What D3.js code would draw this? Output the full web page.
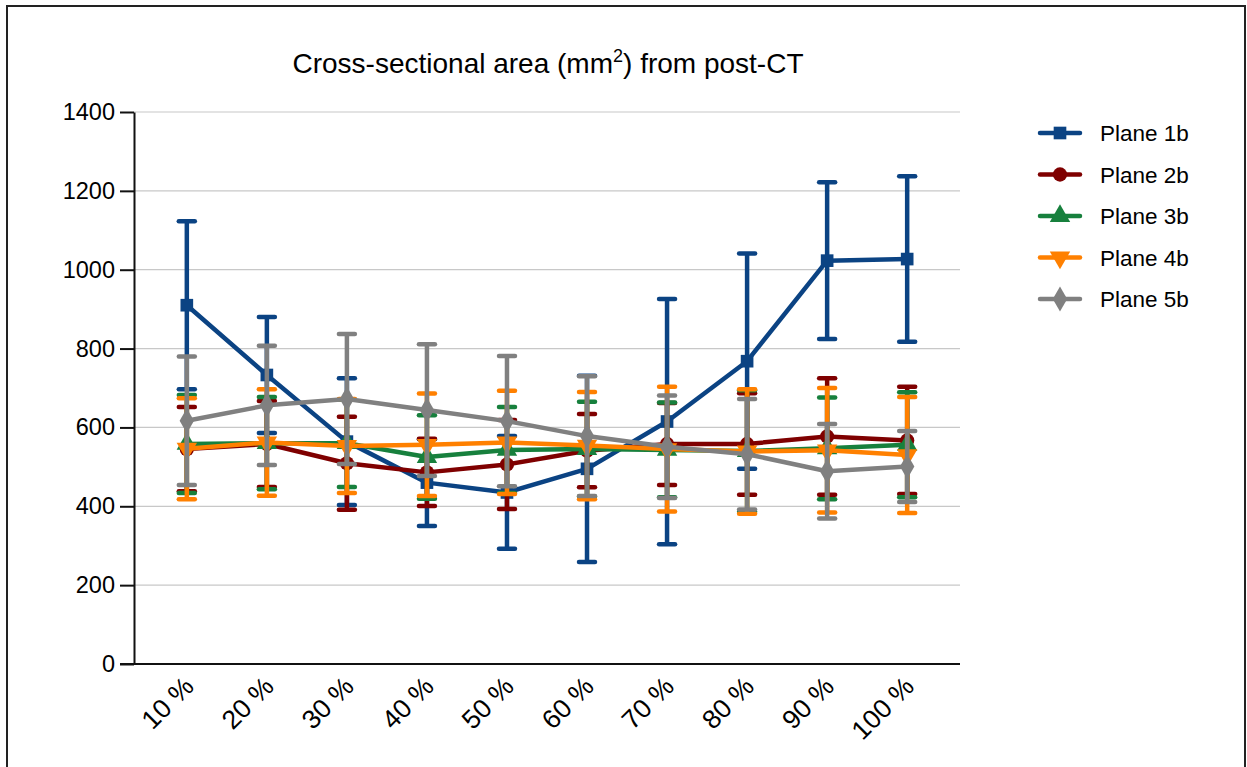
<!DOCTYPE html>
<html>
<head>
<meta charset="utf-8">
<script src="https://cdn.jsdelivr.net/npm/d3@7"></script>
<style>
  html, body { margin: 0; padding: 0; background: #fff; }
  svg { display: block; font-family: "Liberation Sans", Arial, sans-serif; }
</style>
</head>
<body>
<svg id="chart" width="1247" height="767"></svg>
<script>
// Categories along the x axis (position of the plane, %)
const categories = ["10 %", "20 %", "30 %", "40 %", "50 %", "60 %", "70 %", "80 %", "90 %", "100 %"];
const yTicks = [0, 200, 400, 600, 800, 1000, 1200, 1400];
const seriesNames = ["Plane 1b", "Plane 2b", "Plane 3b", "Plane 4b", "Plane 5b"];

// Means and error (± SD) per series, mm²
const plane1bMean = [910, 733, 564, 460, 435, 495, 615, 768, 1023, 1027];
const plane1bErr  = [213, 147, 161, 110, 143, 236, 311, 273, 199, 210];
const plane2bMean = [545, 558, 509, 486, 506, 541, 558, 558, 577, 567];
const plane2bErr  = [107, 109, 118, 85, 113, 93, 104, 129, 148, 136];
const plane3bMean = [558, 560, 560, 525, 543, 545, 543, 540, 547, 556];
const plane3bErr  = [124, 117, 111, 106, 109, 120, 120, 154, 129, 133];
const plane4bMean = [546, 562, 553, 556, 562, 554, 545, 539, 542, 530];
const plane4bErr  = [128, 135, 119, 130, 131, 136, 158, 158, 158, 147];
const plane5bMean = [617, 656, 672, 644, 616, 578, 551, 532, 489, 501];
const plane5bErr  = [163, 151, 165, 167, 165, 152, 130, 140, 120, 90];

const colors = ["#0b4383", "#7f0000", "#17803d", "#ff8000", "#808080"];
const symbols = [d3.symbolSquare, d3.symbolCircle, d3.symbolTriangle, "triDown", d3.symbolDiamond];

const series = [
  { name: seriesNames[0], mean: plane1bMean, err: plane1bErr },
  { name: seriesNames[1], mean: plane2bMean, err: plane2bErr },
  { name: seriesNames[2], mean: plane3bMean, err: plane3bErr },
  { name: seriesNames[3], mean: plane4bMean, err: plane4bErr },
  { name: seriesNames[4], mean: plane5bMean, err: plane5bErr }
];

const svg = d3.select("#chart");
const FONT = "Liberation Sans, Arial, sans-serif";

// outer frame (open at the bottom)
svg.append("path")
  .attr("d", "M7,767 V6 H1245 V767")
  .attr("fill", "none")
  .attr("stroke", "#222")
  .attr("stroke-width", 2);

const plot = { left: 134, right: 960, top: 112, bottom: 664 };

const x = d3.scalePoint().domain(categories).range([plot.left, plot.right]).padding(0.66);
const y = d3.scaleLinear().domain([0, 1400]).range([plot.bottom, plot.top]);

// horizontal gridlines
svg.append("g")
  .selectAll("line")
  .data(yTicks.filter(d => d > 0))
  .join("line")
  .attr("x1", plot.left).attr("x2", plot.right)
  .attr("y1", d => y(d)).attr("y2", d => y(d))
  .attr("stroke", "#c8c8c8")
  .attr("stroke-width", 1.2);

// y axis
const yAxis = svg.append("g")
  .attr("transform", `translate(${plot.left},0)`)
  .call(d3.axisLeft(y).tickValues(yTicks).tickFormat(d3.format("d"))
    .tickSize(14).tickPadding(5).tickSizeOuter(0));
yAxis.select(".domain").attr("stroke", "#111").attr("stroke-width", 2);
yAxis.selectAll(".tick line").attr("stroke", "#111").attr("stroke-width", 2);
yAxis.selectAll(".tick text")
  .attr("font-size", 23.5)
  .attr("font-family", FONT)
  .attr("fill", "#000");

// x axis
const xAxis = svg.append("g")
  .attr("transform", `translate(0,${plot.bottom})`)
  .call(d3.axisBottom(x).tickSize(0).tickPadding(0));
xAxis.select(".domain").attr("d", `M${plot.left - 14},0H${plot.right}`).attr("stroke", "#111").attr("stroke-width", 2);
xAxis.selectAll(".tick text")
  .attr("font-size", 26.5)
  .attr("font-family", FONT)
  .attr("fill", "#000")
  .attr("text-anchor", "end")
  .attr("dy", 0)
  .attr("transform", "translate(8,24) rotate(-45)");

// symbol factory
function symPath(kind, size) {
  if (kind === "triDown") {
    return { d: d3.symbol(d3.symbolTriangle, size)(), rot: 180 };
  }
  return { d: d3.symbol(kind, size)(), rot: 0 };
}
const symSizes = [160, 160, 180, 180, 180];

const lineGen = d3.line()
  .x((d, i) => x(categories[i]))
  .y(d => y(d));

series.forEach((s, k) => {
  const g = svg.append("g");
  const c = colors[k];
  // error bars
  const eb = g.selectAll("g.eb")
    .data(s.mean.map((m, i) => ({ cat: categories[i], m, e: s.err[i] })))
    .join("g")
    .attr("class", "eb");
  eb.append("line")
    .attr("x1", d => x(d.cat)).attr("x2", d => x(d.cat))
    .attr("y1", d => y(d.m + d.e)).attr("y2", d => y(d.m - d.e))
    .attr("stroke", c).attr("stroke-width", 4.5);
  [1, -1].forEach(sign => {
    eb.append("line")
      .attr("x1", d => x(d.cat) - 8).attr("x2", d => x(d.cat) + 8)
      .attr("y1", d => y(d.m + sign * d.e)).attr("y2", d => y(d.m + sign * d.e))
      .attr("stroke", c).attr("stroke-width", 4.5).attr("stroke-linecap", "round");
  });
  // mean line
  g.append("path")
    .attr("d", lineGen(s.mean))
    .attr("fill", "none")
    .attr("stroke", c)
    .attr("stroke-width", 4.5)
    .attr("stroke-linejoin", "round");
  // markers
  const sp = symPath(symbols[k], symSizes[k]);
  g.selectAll("path.mk")
    .data(s.mean)
    .join("path")
    .attr("class", "mk")
    .attr("d", sp.d)
    .attr("fill", c)
    .attr("transform", (d, i) => `translate(${x(categories[i])},${y(d)}) rotate(${sp.rot})`);
});

// title
const title = svg.append("text")
  .attr("x", 548).attr("y", 73)
  .attr("text-anchor", "middle")
  .attr("font-size", 28)
  .attr("font-family", FONT)
  .attr("fill", "#000");
title.append("tspan").text("Cross-sectional area (mm");
title.append("tspan").attr("font-size", 18).attr("dy", -11).text("2");
title.append("tspan").attr("dy", 11).text(") from post-CT");

// legend
const legend = svg.append("g");
series.forEach((s, k) => {
  const ly = 133 + k * 41.5;
  const row = legend.append("g");
  row.append("line")
    .attr("x1", 1040).attr("x2", 1080)
    .attr("y1", ly).attr("y2", ly)
    .attr("stroke", colors[k]).attr("stroke-width", 4.5).attr("stroke-linecap", "round");
  const sp = symPath(symbols[k], symSizes[k]);
  row.append("path")
    .attr("d", sp.d)
    .attr("fill", colors[k])
    .attr("transform", `translate(1060,${ly}) rotate(${sp.rot})`);
  row.append("text")
    .attr("x", 1100).attr("y", ly + 8)
    .attr("font-size", 22.5)
    .attr("font-family", FONT)
    .attr("fill", "#000")
    .text(s.name);
});
</script>
</body>
</html>
